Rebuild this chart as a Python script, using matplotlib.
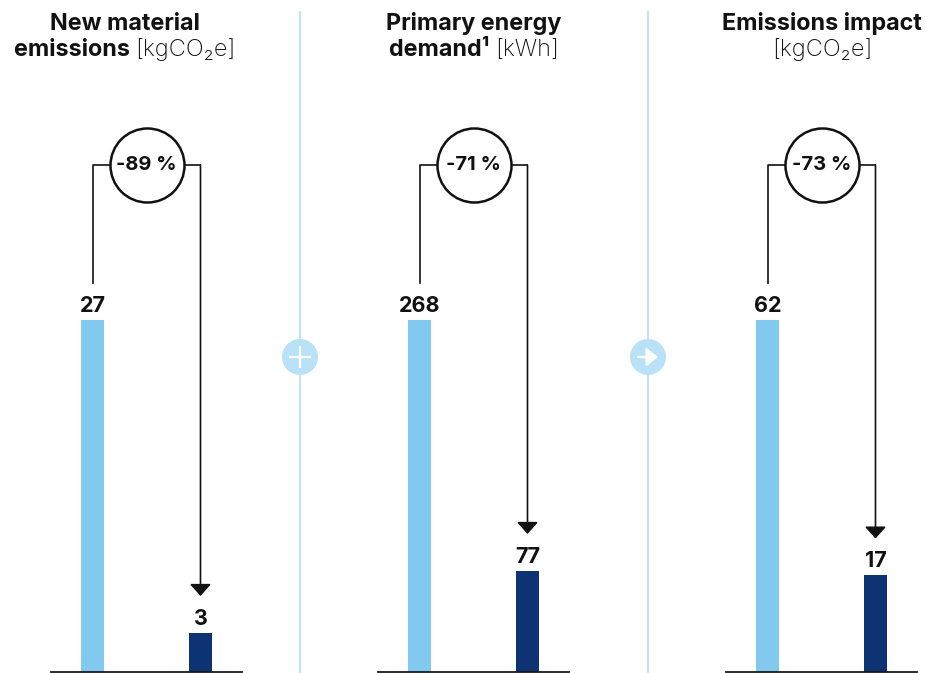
import matplotlib
matplotlib.use('Agg')
import matplotlib.pyplot as plt
from matplotlib.patches import Circle

plt.rcParams['font.family'] = ['Inter', 'DejaVu Sans']

# data
bold_line1 = ['New material', 'Primary energy', 'Emissions impact']
bold_line2 = ['emissions', 'demand\u00b9', '']
unit_line2 = ['[kgCO\u2082e]', '[kWh]', '[kgCO\u2082e]']
before = [27, 268, 62]
after = [3, 77, 17]
changes = ['-89 %', '-71 %', '-73 %']

LIGHT = '#82C9F0'
DARK = '#0D3372'
SEP = '#C2E4F8'
W, H = 928, 673

fig = plt.figure(figsize=(W / 100, H / 100), dpi=100)
bg = fig.add_axes([0, 0, 1, 1])
bg.set_xlim(0, W)
bg.set_ylim(H, 0)
bg.axis('off')

# panel placement in pixels
panel_left = [51, 378, 726]
panel_w = 191
title_cx = [125, 474, 822]
base_px, top_px, full_px = 672, 130, 352

renderer = fig.canvas.get_renderer()

for i in range(3):
    v0, v1 = before[i], after[i]
    ax = fig.add_axes([panel_left[i] / W, (H - base_px) / H,
                       panel_w / W, (base_px - top_px) / H])
    ax.patch.set_alpha(0)
    scale = v0 / full_px
    ax.set_ylim(0, (base_px - top_px) * scale)
    ax.set_xlim(-0.39, 1.386)
    ax.bar([0, 1], [v0, v1], width=0.214, color=[LIGHT, DARK], zorder=2)
    for s in ['top', 'left', 'right']:
        ax.spines[s].set_visible(False)
    ax.spines['bottom'].set_color('#1a1a1a')
    ax.spines['bottom'].set_linewidth(1.3)
    ax.set_xticks([])
    ax.set_yticks([])

    for x, v in zip([0, 1], [v0, v1]):
        ax.annotate(str(v), (x, v), xytext=(0, 6), textcoords='offset points',
                    ha='center', va='baseline', fontsize=15.5,
                    fontweight='bold', color='#111111')

    # bracket with change circle
    y_top = (base_px - 165) * scale
    y_low = (base_px - 283) * scale
    ax.plot([0, 0, 1], [y_low, y_top, y_top], color='#111111', lw=1.2,
            clip_on=False, zorder=2)
    ax.annotate('', xy=(1, v1), xytext=(1, y_top),
                arrowprops=dict(arrowstyle='-|>,head_length=0.72,head_width=0.65',
                                mutation_scale=10, shrinkA=0, shrinkB=26.6,
                                color='#111111', lw=1.2),
                annotation_clip=False)
    ax.scatter([0.5], [y_top], s=2840, facecolor='white', edgecolor='#111111',
               linewidth=1.8, zorder=3, clip_on=False)
    ax.text(0.5, y_top, changes[i], ha='center', va='center', fontsize=14.5,
            fontweight='bold', color='#111111', zorder=4)

    # titles
    bg.text(title_cx[i], 30, bold_line1[i], ha='center', va='baseline',
            fontsize=16.8, fontweight='bold', color='#111111')
    tb = bg.text(0, 56, bold_line2[i] + (' ' if bold_line2[i] else ''),
                 ha='left', va='baseline', fontsize=16.8, fontweight='bold',
                 color='#111111')
    tr = bg.text(0, 56, unit_line2[i], ha='left', va='baseline', fontsize=17,
                 fontweight='light', color='#111111')
    wb = tb.get_window_extent(renderer).width if bold_line2[i] else 0
    wr = tr.get_window_extent(renderer).width
    x0 = title_cx[i] - (wb + wr) / 2
    tb.set_x(x0)
    tr.set_x(x0 + wb)

# separators with icons
for k, x in enumerate([300, 648]):
    bg.plot([x, x], [12, 672], color=SEP, lw=1.5, zorder=0)
    bg.add_patch(Circle((x, 357), 18, facecolor='#B9E1F8', edgecolor='none', zorder=1))
    if k == 0:
        bg.plot([x - 10, x + 10], [357, 357], color='white', lw=1.6, zorder=2)
        bg.plot([x, x], [347, 367], color='white', lw=1.6, zorder=2)
    else:
        bg.annotate('', xy=(x + 10, 357), xytext=(x - 10, 357),
                    arrowprops=dict(arrowstyle='-|>,head_length=0.5,head_width=0.4',
                                    mutation_scale=14, shrinkA=0, shrinkB=0,
                                    color='white', lw=1.6), zorder=2)

fig.savefig('out.png', dpi=100)
